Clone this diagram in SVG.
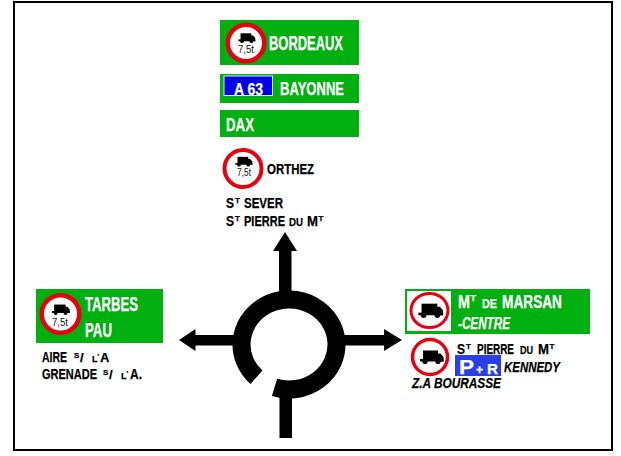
<svg xmlns="http://www.w3.org/2000/svg" width="621" height="456" viewBox="0 0 621 456">
<style>
.g{fill:#00b010}
.t{font-family:"Liberation Sans",Arial,sans-serif;font-weight:700;stroke-width:.25}
.w{fill:#fff;stroke:#fff}
.k{fill:#000;stroke:#000}
.ring{fill:#fff;stroke:#e8000f}
.n{font-family:"Liberation Sans",Arial,sans-serif;fill:#111}
.road{fill:none;stroke:#000}
</style>
<defs>
<g id="truck"><rect x="-9" y="-6.500" width="15" height="9.500" fill="#000"/><path d="M5-3.500h3.500l3 3.500v4.500H5z" fill="#000"/><rect x="-12" y="2" width="23.500" height="2.500" fill="#000"/><circle cx="-7" cy="4.500" r="2.600" fill="#000"/><circle cx="6" cy="4.500" r="2.600" fill="#000"/></g>
</defs>
<rect x="14" y="2" width="598" height="448" fill="#fff" stroke="#000" stroke-width="2"/>
<g id="connectors">
<path class="road" stroke-width="18" d="M256.500 377.300A47.500 45 0 1 1 274.500 387.350"/>
<rect x="279" y="250" width="12.500" height="44"/><path d="M285 232L297 251H273z"/>
<rect x="279.500" y="394" width="12.500" height="44"/>
<rect x="194" y="335" width="42" height="10.500"/><path d="M179 340L195.500 329V351z"/>
<rect x="342" y="335" width="44" height="10.500"/><path d="M402 340L384 329V351z"/>
</g>
<g id="sign-bordeaux">
<rect class="g" x="220" y="20" width="139" height="45"/>
<circle class="ring" cx="246" cy="43" r="18.300" stroke-width="4.500"/>
<use href="#truck" transform="translate(247 38) scale(.72)"/>
<text class="n" x="246" y="53" font-size="11" text-anchor="middle" textLength="16" lengthAdjust="spacingAndGlyphs">7,5t</text>
<text class="t w" x="269" y="50" font-size="19.500" textLength="74" lengthAdjust="spacingAndGlyphs">BORDEAUX</text>
</g>
<g id="sign-bayonne">
<rect class="g" x="220" y="74" width="139" height="29"/>
<rect x="224" y="76" width="48.500" height="19.500" fill="#0000f0" stroke="#dfe6ff" stroke-width="1"/>
<text class="t w" x="234" y="95" font-size="16" textLength="29" lengthAdjust="spacingAndGlyphs">A 63</text>
<text class="t w" x="280" y="94.500" font-size="18" textLength="64" lengthAdjust="spacingAndGlyphs">BAYONNE</text>
</g>
<g id="sign-dax">
<rect class="g" x="220" y="110" width="139" height="27"/>
<text class="t w" x="226" y="131" font-size="18" textLength="28" lengthAdjust="spacingAndGlyphs">DAX</text>
</g>
<g id="sign-orthez">
<circle class="ring" cx="243" cy="168.500" r="18.500" stroke-width="4"/>
<use href="#truck" transform="translate(244 161.500) scale(.72)"/>
<text class="n" x="244" y="176" font-size="10" text-anchor="middle" textLength="14" lengthAdjust="spacingAndGlyphs">7,5t</text>
<text class="t k" x="267" y="174" font-size="14.500" textLength="47" lengthAdjust="spacingAndGlyphs">ORTHEZ</text>
</g>
<g id="label-sever">
<text class="t k" x="226" y="207.700" font-size="14.500" textLength="8" lengthAdjust="spacingAndGlyphs">S</text>
<text class="t k" x="235" y="203" font-size="8">T</text>
<text class="t k" x="244" y="207.700" font-size="14.500" textLength="39" lengthAdjust="spacingAndGlyphs">SEVER</text>
<text class="t k" x="226" y="226" font-size="14.500" textLength="8" lengthAdjust="spacingAndGlyphs">S</text>
<text class="t k" x="235" y="221" font-size="8">T</text>
<text class="t k" x="244" y="226" font-size="14.500" textLength="41" lengthAdjust="spacingAndGlyphs">PIERRE</text>
<text class="t k" x="289" y="226" font-size="11.500" textLength="14" lengthAdjust="spacingAndGlyphs">DU</text>
<text class="t k" x="307" y="226" font-size="14.500" textLength="11" lengthAdjust="spacingAndGlyphs">M</text>
<text class="t k" x="318.500" y="221" font-size="8">T</text>
</g>
<g id="sign-tarbes">
<rect class="g" x="36" y="289" width="127" height="54"/>
<circle class="ring" cx="60.500" cy="314" r="18.800" stroke-width="4.500"/>
<use href="#truck" transform="translate(61 309.500) scale(.76)"/>
<text class="n" x="60" y="325.500" font-size="11" text-anchor="middle" textLength="16" lengthAdjust="spacingAndGlyphs">7,5t</text>
<text class="t w" x="85" y="311" font-size="20" textLength="53" lengthAdjust="spacingAndGlyphs">TARBES</text>
<text class="t w" x="85" y="337" font-size="20" textLength="27" lengthAdjust="spacingAndGlyphs">PAU</text>
</g>
<g id="label-aire">
<text class="t k" x="42" y="362" font-size="14" textLength="25" lengthAdjust="spacingAndGlyphs">AIRE</text>
<text class="t k" x="74" y="358" font-size="8">S</text>
<text class="t k" x="80" y="362" font-size="13">/</text>
<text class="t k" x="92" y="362" font-size="9">L</text>
<text class="t k" x="97.500" y="359" font-size="7">'</text>
<text class="t k" x="100" y="362" font-size="13">A</text>
<text class="t k" x="42" y="379" font-size="14.500" textLength="55" lengthAdjust="spacingAndGlyphs">GRENADE</text>
<text class="t k" x="103" y="375" font-size="8">S</text>
<text class="t k" x="109" y="379" font-size="13">/</text>
<text class="t k" x="121" y="379" font-size="9">L</text>
<text class="t k" x="126.500" y="376" font-size="7">'</text>
<text class="t k" x="130" y="379" font-size="14.500" textLength="12" lengthAdjust="spacingAndGlyphs">A.</text>
</g>
<g id="sign-marsan">
<rect class="g" x="405" y="289" width="185" height="45"/>
<rect x="407" y="291" width="44" height="40" fill="#fff"/>
<ellipse class="ring" cx="429.500" cy="310.500" rx="18.500" ry="17" stroke-width="3"/>
<use href="#truck" transform="translate(431 310.500) scale(1.050)"/>
<text class="t w" x="458" y="308" font-size="18" textLength="12" lengthAdjust="spacingAndGlyphs">M</text>
<text class="t w" x="470.500" y="301" font-size="9">T</text>
<text class="t w" x="482" y="308" font-size="13" textLength="15" lengthAdjust="spacingAndGlyphs">DE</text>
<text class="t w" x="502" y="308" font-size="18" textLength="60" lengthAdjust="spacingAndGlyphs">MARSAN</text>
<text class="t w" x="458" y="329" font-size="16" font-style="italic" textLength="52" lengthAdjust="spacingAndGlyphs">-CENTRE</text>
</g>
<g id="sign-pierre">
<circle class="ring" cx="430" cy="357" r="17.500" stroke-width="3.500"/>
<use href="#truck" transform="translate(432 357) scale(1)"/>
<text class="t k" x="457" y="354" font-size="15" textLength="8" lengthAdjust="spacingAndGlyphs">S</text>
<text class="t k" x="466" y="349" font-size="8">T</text>
<text class="t k" x="477" y="354" font-size="15" textLength="37" lengthAdjust="spacingAndGlyphs">PIERRE</text>
<text class="t k" x="520" y="354" font-size="11" textLength="13" lengthAdjust="spacingAndGlyphs">DU</text>
<text class="t k" x="538" y="354" font-size="15" textLength="11" lengthAdjust="spacingAndGlyphs">M</text>
<text class="t k" x="549.500" y="349" font-size="8">T</text>
<rect x="455" y="355" width="46" height="21" fill="#2a3fe8"/>
<text class="t w" x="459" y="374" font-size="21" textLength="15" lengthAdjust="spacingAndGlyphs">P</text>
<text class="t w" x="476" y="374" font-size="12">+</text>
<text class="t w" x="487" y="374" font-size="15" textLength="11" lengthAdjust="spacingAndGlyphs">R</text>
<text class="t k" x="504" y="372" font-size="15" font-style="italic" textLength="56" lengthAdjust="spacingAndGlyphs">KENNEDY</text>
<text class="t k" x="412" y="388" font-size="14" font-style="italic" textLength="89" lengthAdjust="spacingAndGlyphs">Z.A BOURASSE</text>
</g>
</svg>
